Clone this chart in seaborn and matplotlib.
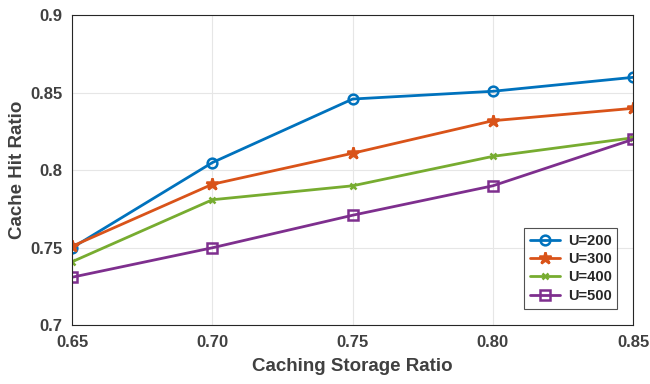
import pandas as pd
import matplotlib
matplotlib.use("Agg")
import matplotlib.pyplot as plt
import seaborn as sns

# Data
ratios = [0.65, 0.70, 0.75, 0.80, 0.85]
u200 = [0.750, 0.805, 0.846, 0.851, 0.860]
u300 = [0.751, 0.791, 0.811, 0.832, 0.840]
u400 = [0.741, 0.781, 0.790, 0.809, 0.821]
u500 = [0.731, 0.750, 0.771, 0.790, 0.820]
labels = ["U=200", "U=300", "U=400", "U=500"]
xtick_labels = ["0.65", "0.70", "0.75", "0.80", "0.85"]
ytick_labels = ["0.7", "0.75", "0.8", "0.85", "0.9"]

sns.set_style("white")
plt.rcParams['font.family'] = ['Liberation Sans', 'DejaVu Sans']
plt.rcParams['font.weight'] = 'bold'

colors = ['#0072BD', '#D95319', '#77AC30', '#7E2F8E']
markers = ['o', '*', 'x', 's']
msizes = [7, 9, 5, 7]
mfcs = ['none', '#D95319', '#77AC30', 'none']
text_col = '#404040'

fig, ax = plt.subplots(figsize=(6.5, 3.84), dpi=100)
fig.subplots_adjust(left=0.111, right=0.974, top=0.96, bottom=0.153)

for vals, lab, c, m, ms, fc in zip([u200, u300, u400, u500], labels, colors, markers, msizes, mfcs):
    df = pd.DataFrame({"ratio": ratios, "hit": vals})
    sns.lineplot(data=df, x="ratio", y="hit", ax=ax, color=c, marker=m,
                 markersize=ms, markerfacecolor=fc, markeredgecolor=c,
                 markeredgewidth=1.8, linewidth=2, label=lab)

ax.set_xlim(0.65, 0.85)
ax.set_ylim(0.7, 0.9)
ax.set_xticks(ratios)
ax.set_xticklabels(xtick_labels)
ax.set_yticks([0.7, 0.75, 0.8, 0.85, 0.9])
ax.set_yticklabels(ytick_labels)
ax.tick_params(direction='in', labelsize=12, length=4, width=0.8, pad=7,
               labelcolor=text_col)
for t in ax.get_xticklabels() + ax.get_yticklabels():
    t.set_fontweight('bold')
ax.grid(True, color='#e6e6e6', linewidth=0.8)
for s in ax.spines.values():
    s.set_visible(True)
    s.set_color('#262626')
    s.set_linewidth(0.8)
ax.set_xlabel('Caching Storage Ratio', fontsize=13.5, fontweight='bold', color=text_col, labelpad=6)
ax.set_ylabel('Cache Hit Ratio', fontsize=13.5, fontweight='bold', color=text_col, labelpad=1)
ax.yaxis.set_label_coords(-0.083, 0.5)

leg = ax.legend(loc='lower right', fontsize=10.5, frameon=True, fancybox=False,
                edgecolor='#262626', handlelength=2.1, borderpad=0.4,
                labelspacing=0.3, handletextpad=0.5, bbox_to_anchor=(0.985, 0.03))
leg.get_frame().set_linewidth(0.8)
for t in leg.get_texts():
    t.set_fontweight('bold')

plt.savefig('out.png', dpi=100)
plt.close()
